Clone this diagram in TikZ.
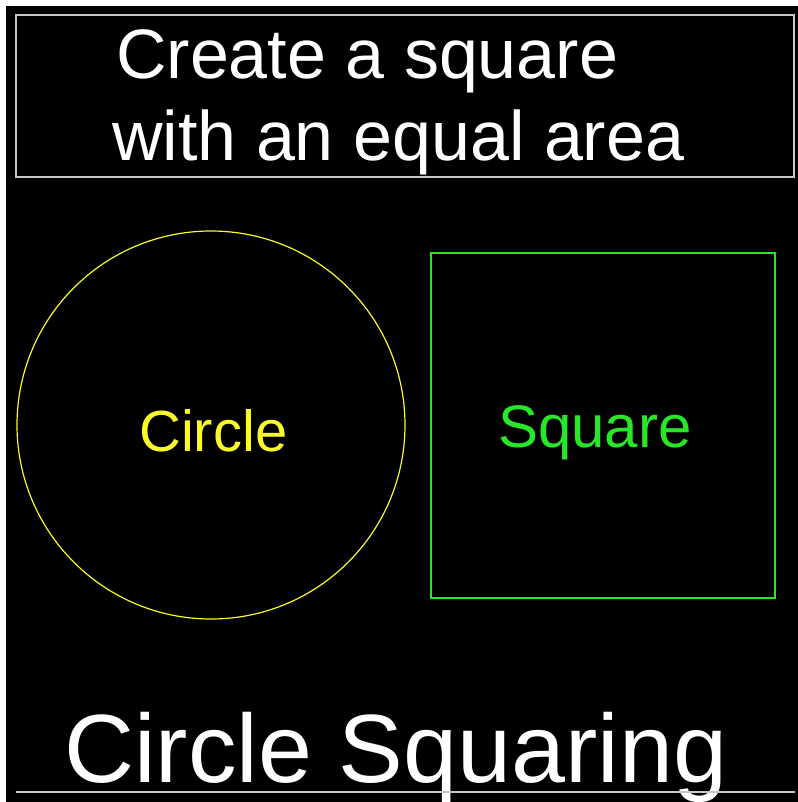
\documentclass[tikz,border=0pt]{standalone}
\usepackage{fontspec}
\setmainfont{Liberation Sans}
\usepackage{tikz}
\usetikzlibrary{positioning}

\definecolor{cadyellow}{RGB}{250,250,40}
\definecolor{cadgreen}{RGB}{40,230,40}
\definecolor{cadgrey}{RGB}{200,200,200}

\begin{document}
\begin{tikzpicture}[
  x=1pt, y=-1pt,
  txt/.style={inner sep=0pt, anchor=base west, white},
  outline/.style={line width=1.6pt},
]

% --- Background ---
\useasboundingbox (0,0) rectangle (797,802);
\fill[white] (0,0) rectangle (797,802);
\fill[black] (6,6) rectangle (820,820);

% --- Title box ---
\draw[outline, cadgrey] (16,15) rectangle (794,177);
\node[txt, font=\fontsize{70}{80}\selectfont] (line1) at (116,79) {Create a square};
\node[txt, font=\fontsize{70}{80}\selectfont] (line2) at (112,161) {with an equal area};

% --- Circle ---
\draw[line width=1.2pt, cadyellow] (211,425) circle[radius=194];
\node[txt, cadyellow, font=\fontsize{58}{64}\selectfont] (circlelbl) at (139,451) {Circle};

% --- Square ---
\draw[outline, cadgreen] (431,253) rectangle (775,598);
\node[txt, cadgreen, font=\fontsize{60}{66}\selectfont] (squarelbl) at (498,447) {Square};

% --- Caption ---
\node[txt, font=\fontsize{97}{110}\selectfont] (caption) at (64,782) {Circle Squaring};
\draw[outline, cadgrey] (16,792) -- (795,792);

\end{tikzpicture}
\end{document}
